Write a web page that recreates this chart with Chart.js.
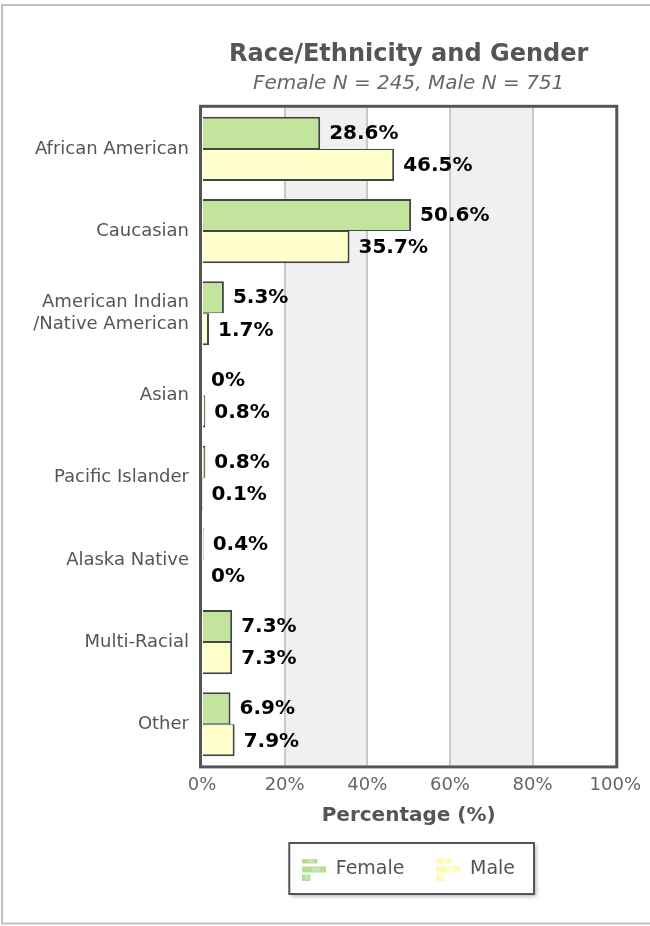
<!DOCTYPE html>
<html>
<head>
<meta charset="utf-8">
<script src="https://cdn.jsdelivr.net/npm/chart.js@4.4.1/dist/chart.umd.min.js"></script>
<style>
  html, body { margin: 0; padding: 0; background: #fff; }
  canvas { display: block; }
</style>
</head>
<body>
<canvas id="raceChart" width="650" height="926"></canvas>
<script>
const categories = ['African American', 'Caucasian', ['American Indian', '/Native American'], 'Asian', 'Pacific Islander', 'Alaska Native', 'Multi-Racial', 'Other'];
const female = [28.6, 50.6, 5.3, 0, 0.8, 0.4, 7.3, 6.9];
const male = [46.5, 35.7, 1.7, 0.8, 0.1, 0, 7.3, 7.9];
const xTicks = [0, 20, 40, 60, 80, 100];

Chart.defaults.font.family = "'DejaVu Sans', Verdana, sans-serif";

// small bar-chart icon used in the legend
function legendIcon(color, light) {
    const c = document.createElement('canvas');
    c.width = 24;
    c.height = 22;
    const g = c.getContext('2d');
    const rows = [[0, 0, 15, 5], [0, 8, 24, 6], [0, 16, 8, 6]];
    rows.forEach(function (r) {
        g.fillStyle = color;
        g.fillRect(r[0], r[1], r[2], r[3]);
        g.fillStyle = light;
        g.fillRect(r[0] + r[2] * 0.4, r[1] + 1, r[2] * 0.35, r[3] - 2);
    });
    return c;
}

const iconFemale = legendIcon('#b3dc95', '#cbe8b6');
const iconMale = legendIcon('#fff9b0', '#ffffd2');

const frame = {
    id: 'frame',
    beforeDraw(chart) {
        const ctx = chart.ctx;
        const area = chart.chartArea;
        const sx = chart.scales.x;
        ctx.save();
        // outer border
        ctx.strokeStyle = '#c0c0c0';
        ctx.lineWidth = 2;
        ctx.strokeRect(2, 5, 700, 918.5);
        // alternating bands
        ctx.fillStyle = '#f0f0f0';
        for (let i = 1; i < xTicks.length - 1; i += 2) {
            const a = sx.getPixelForValue(xTicks[i]);
            const b = sx.getPixelForValue(xTicks[i + 1]);
            ctx.fillRect(a, area.top, b - a, area.bottom - area.top);
        }
        // legend box
        const hb = chart.legend.legendHitBoxes;
        if (hb && hb.length) {
            const first = hb[0];
            const last = hb[hb.length - 1];
            const left = first.left - 13;
            const right = last.left + last.width + 19;
            const top = first.top - 17;
            const bottom = first.top + first.height + 15;
            ctx.shadowColor = 'rgba(0,0,0,0.35)';
            ctx.shadowBlur = 4;
            ctx.shadowOffsetX = 2;
            ctx.shadowOffsetY = 2;
            ctx.fillStyle = '#fff';
            ctx.fillRect(left, top, right - left, bottom - top);
            ctx.shadowColor = 'transparent';
            ctx.strokeStyle = '#555';
            ctx.lineWidth = 2;
            ctx.strokeRect(left, top, right - left, bottom - top);
        }
        ctx.restore();
    },
    afterDatasetsDraw(chart) {
        const ctx = chart.ctx;
        const area = chart.chartArea;
        ctx.save();
        // value labels
        ctx.font = 'bold 20px ' + Chart.defaults.font.family;
        ctx.fillStyle = '#000';
        ctx.textAlign = 'left';
        ctx.textBaseline = 'middle';
        chart.data.datasets.forEach(function (ds, i) {
            chart.getDatasetMeta(i).data.forEach(function (bar, j) {
                ctx.fillText(ds.data[j] + '%', bar.x + 9, bar.y + 1);
            });
        });
        // plot border
        ctx.strokeStyle = '#555';
        ctx.lineWidth = 3;
        ctx.strokeRect(area.left - 1.5, area.top - 1.5, area.right - area.left + 3, area.bottom - area.top + 3);
        ctx.restore();
    }
};

new Chart(document.getElementById('raceChart').getContext('2d'), {
    type: 'bar',
    data: {
        labels: categories,
        datasets: [{
            label: 'Female',
            data: female,
            backgroundColor: '#c3e49d',
            borderColor: '#444',
            borderWidth: { top: 2, right: 2, bottom: 1, left: 0 },
            borderSkipped: false,
            categoryPercentage: 0.78,
            barPercentage: 1
        }, {
            label: 'Male',
            data: male,
            backgroundColor: '#ffffcc',
            borderColor: '#444',
            borderWidth: { top: 1, right: 2, bottom: 2, left: 0 },
            borderSkipped: false,
            categoryPercentage: 0.78,
            barPercentage: 1
        }]
    },
    options: {
        indexAxis: 'y',
        responsive: false,
        animation: false,
        devicePixelRatio: 1,
        layout: {
            padding: { left: 2, right: 33, top: 4, bottom: 37 }
        },
        scales: {
            x: {
                min: 0,
                max: 100,
                afterBuildTicks: function (scale) {
                    scale.ticks = xTicks.map(function (v) { return { value: v }; });
                },
                ticks: {
                    callback: function (v) { return v + '%'; },
                    color: '#666',
                    font: { size: 18 },
                    padding: 9,
                    maxRotation: 0
                },
                grid: {
                    color: function (c) {
                        return (c.tick && (c.tick.value === 0 || c.tick.value === 100)) ? 'rgba(0,0,0,0)' : '#c8c8c8';
                    },
                    lineWidth: 2,
                    drawTicks: false
                },
                border: { display: false },
                title: {
                    display: true,
                    text: 'Percentage (%)',
                    color: '#555',
                    font: { size: 20, weight: 'bold' },
                    padding: { top: -1, bottom: 0 }
                }
            },
            y: {
                afterFit: function (scale) { scale.width = 200; },
                ticks: {
                    color: '#555',
                    font: { size: 18, lineHeight: 1.25 },
                    padding: 13
                },
                grid: { display: false, drawTicks: false },
                border: { display: false }
            }
        },
        plugins: {
            title: {
                display: true,
                fullSize: false,
                text: 'Race/Ethnicity and Gender',
                color: '#555',
                font: { size: 24, weight: 'bold' },
                padding: { top: 36, bottom: 3 }
            },
            subtitle: {
                display: true,
                fullSize: false,
                text: 'Female N = 245, Male N = 751',
                color: '#666',
                font: { size: 20, style: 'italic' },
                padding: { top: 0, bottom: 12 }
            },
            legend: {
                position: 'bottom',
                fullSize: false,
                labels: {
                    usePointStyle: true,
                    pointStyleWidth: 24,
                    padding: 32,
                    color: '#555',
                    font: { size: 19 },
                    generateLabels: function (chart) {
                        return chart.data.datasets.map(function (ds, i) {
                            return {
                                text: ds.label,
                                pointStyle: i === 0 ? iconFemale : iconMale,
                                fillStyle: ds.backgroundColor,
                                strokeStyle: 'rgba(0,0,0,0)',
                                lineWidth: 0,
                                fontColor: '#555',
                                hidden: false,
                                datasetIndex: i
                            };
                        });
                    }
                }
            },
            tooltip: { enabled: false }
        }
    },
    plugins: [frame]
});
</script>
</body>
</html>
